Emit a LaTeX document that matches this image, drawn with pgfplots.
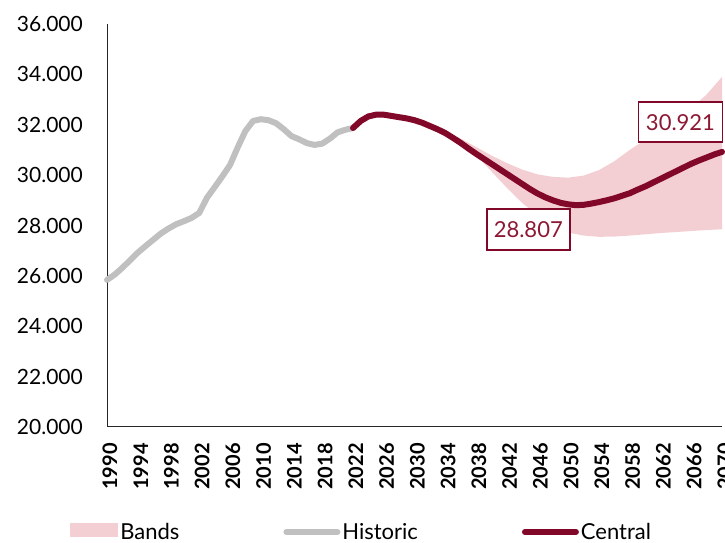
\documentclass[border=0pt]{standalone}
\usepackage{pgfplots}
\pgfplotsset{compat=1.18}
\usepackage{fontspec}
\setmainfont{Lato}
\definecolor{histgrey}{RGB}{192,192,192}
\definecolor{central}{RGB}{130,8,42}
\definecolor{bandpink}{RGB}{243,206,211}
\definecolor{labelred}{RGB}{140,24,52}

\pgfplotsset{
  mylinelegend/.style={legend image code/.code={\draw[##1] (0pt,0pt) -- (51pt,0pt);}},
  mybandlegend/.style={legend image code/.code={\fill[bandpink] (0pt,-5pt) rectangle (48pt,9pt);}},
}

\pgfplotstableread{
x y
1990 25840
1991 26050
1992 26320
1993 26620
1994 26920
1995 27180
1996 27430
1997 27680
1998 27880
1999 28050
2000 28170
2001 28300
2002 28500
2003 29100
2004 29520
2005 29950
2006 30400
2007 31100
2008 31750
2009 32150
2010 32220
2011 32180
2012 32060
2013 31820
2014 31550
2015 31420
2016 31270
2017 31200
2018 31250
2019 31450
2020 31700
2021 31800
2022 31870
}\historic

\pgfplotstableread{
x y
2022 31870
2023 32150
2024 32330
2025 32400
2026 32400
2027 32350
2028 32300
2029 32250
2030 32180
2031 32080
2032 31950
2033 31820
2034 31670
2035 31480
2036 31280
2037 31060
2038 30850
2039 30650
2040 30450
2041 30250
2042 30050
2043 29850
2044 29650
2045 29450
2046 29270
2047 29120
2048 29000
2049 28900
2050 28840
2051 28807
2052 28820
2053 28870
2054 28930
2055 29000
2056 29080
2057 29180
2058 29280
2059 29420
2060 29550
2061 29700
2062 29850
2063 30000
2064 30150
2065 30300
2066 30450
2067 30580
2068 30700
2069 30820
2070 30921
}\central

\pgfplotstableread{
x y
2022 31870
2024 32330
2026 32400
2028 32300
2030 32180
2032 31970
2034 31740
2036 31450
2038 31120
2040 30780
2042 30480
2044 30220
2046 30030
2048 29930
2050 29900
2052 29980
2054 30200
2056 30550
2058 31000
2060 31400
2062 31750
2064 32200
2066 32650
2068 33200
2070 33900
2070 27850
2068 27820
2066 27780
2064 27740
2062 27700
2060 27650
2058 27600
2056 27560
2054 27550
2052 27600
2050 27720
2048 27980
2046 28400
2044 28900
2042 29500
2040 30150
2038 30800
2036 31250
2034 31600
2032 31920
2030 32150
2028 32280
2026 32380
2024 32300
2022 31870
}\bands

\begin{document}
\begin{tikzpicture}[x=1pt,y=1pt]
\useasboundingbox (0,0) rectangle (725,543);
\begin{axis}[
  at={(107pt,116pt)}, anchor=south west,
  scale only axis, width=615pt, height=403pt,
  xmin=1990, xmax=2070, ymin=20000, ymax=36000,
  axis lines=left,
  axis line style={-, line width=1pt, black!85},
  xtick={1990,1994,...,2070},
  ytick={20000,22000,...,36000},
  scaled y ticks=false, scaled x ticks=false,
  major tick length=0pt,
  /pgf/number format/assume math mode=true,
  xticklabel style={font=\fontsize{20}{20}\selectfont\bfseries, xshift=3pt, yshift=-16pt,
     rotate=90, anchor=east, inner sep=0pt,
     /pgf/number format/1000 sep={}},
  yticklabel style={font=\fontsize{21}{21}\selectfont, anchor=east,
     inner sep=0pt, xshift=-24pt,
     /pgf/number format/.cd, fixed, precision=0, 1000 sep={.}},
  clip=false,
  legend columns=3,
  legend style={draw=none, fill=none, inner sep=0pt,
     at={(axis description cs:-0.060,-0.2605)}, anchor=west,
     font=\fontsize{22}{22}\selectfont,
     /tikz/every even column/.append style={column sep=102pt}},
  legend cell align=left,
]
\addplot[draw=none, fill=bandpink, mybandlegend]
  table[x=x,y=y] {\bands} -- cycle;
\addlegendentry{Bands}
\addplot[histgrey, line width=6pt, line cap=round, line join=round, mylinelegend]
  table[x=x,y=y] {\historic};
\addlegendentry{Historic}
\addplot[central, line width=6pt, line cap=round, line join=round, mylinelegend]
  table[x=x,y=y] {\central};
\addlegendentry{Central}
\node[draw=central, line width=1.5pt, fill=white, text=labelred,
  font=\fontsize{22}{22}\selectfont, minimum width=84pt, minimum height=40pt,
  inner sep=0pt] at (axis cs:2064.6,32100) {30.921};
\node[draw=central, line width=1.5pt, fill=white, text=labelred,
  font=\fontsize{22}{22}\selectfont, minimum width=83pt, minimum height=41pt,
  inner sep=0pt] at (axis cs:2044.8,27840) {28.807};
\end{axis}
\end{tikzpicture}
\end{document}
